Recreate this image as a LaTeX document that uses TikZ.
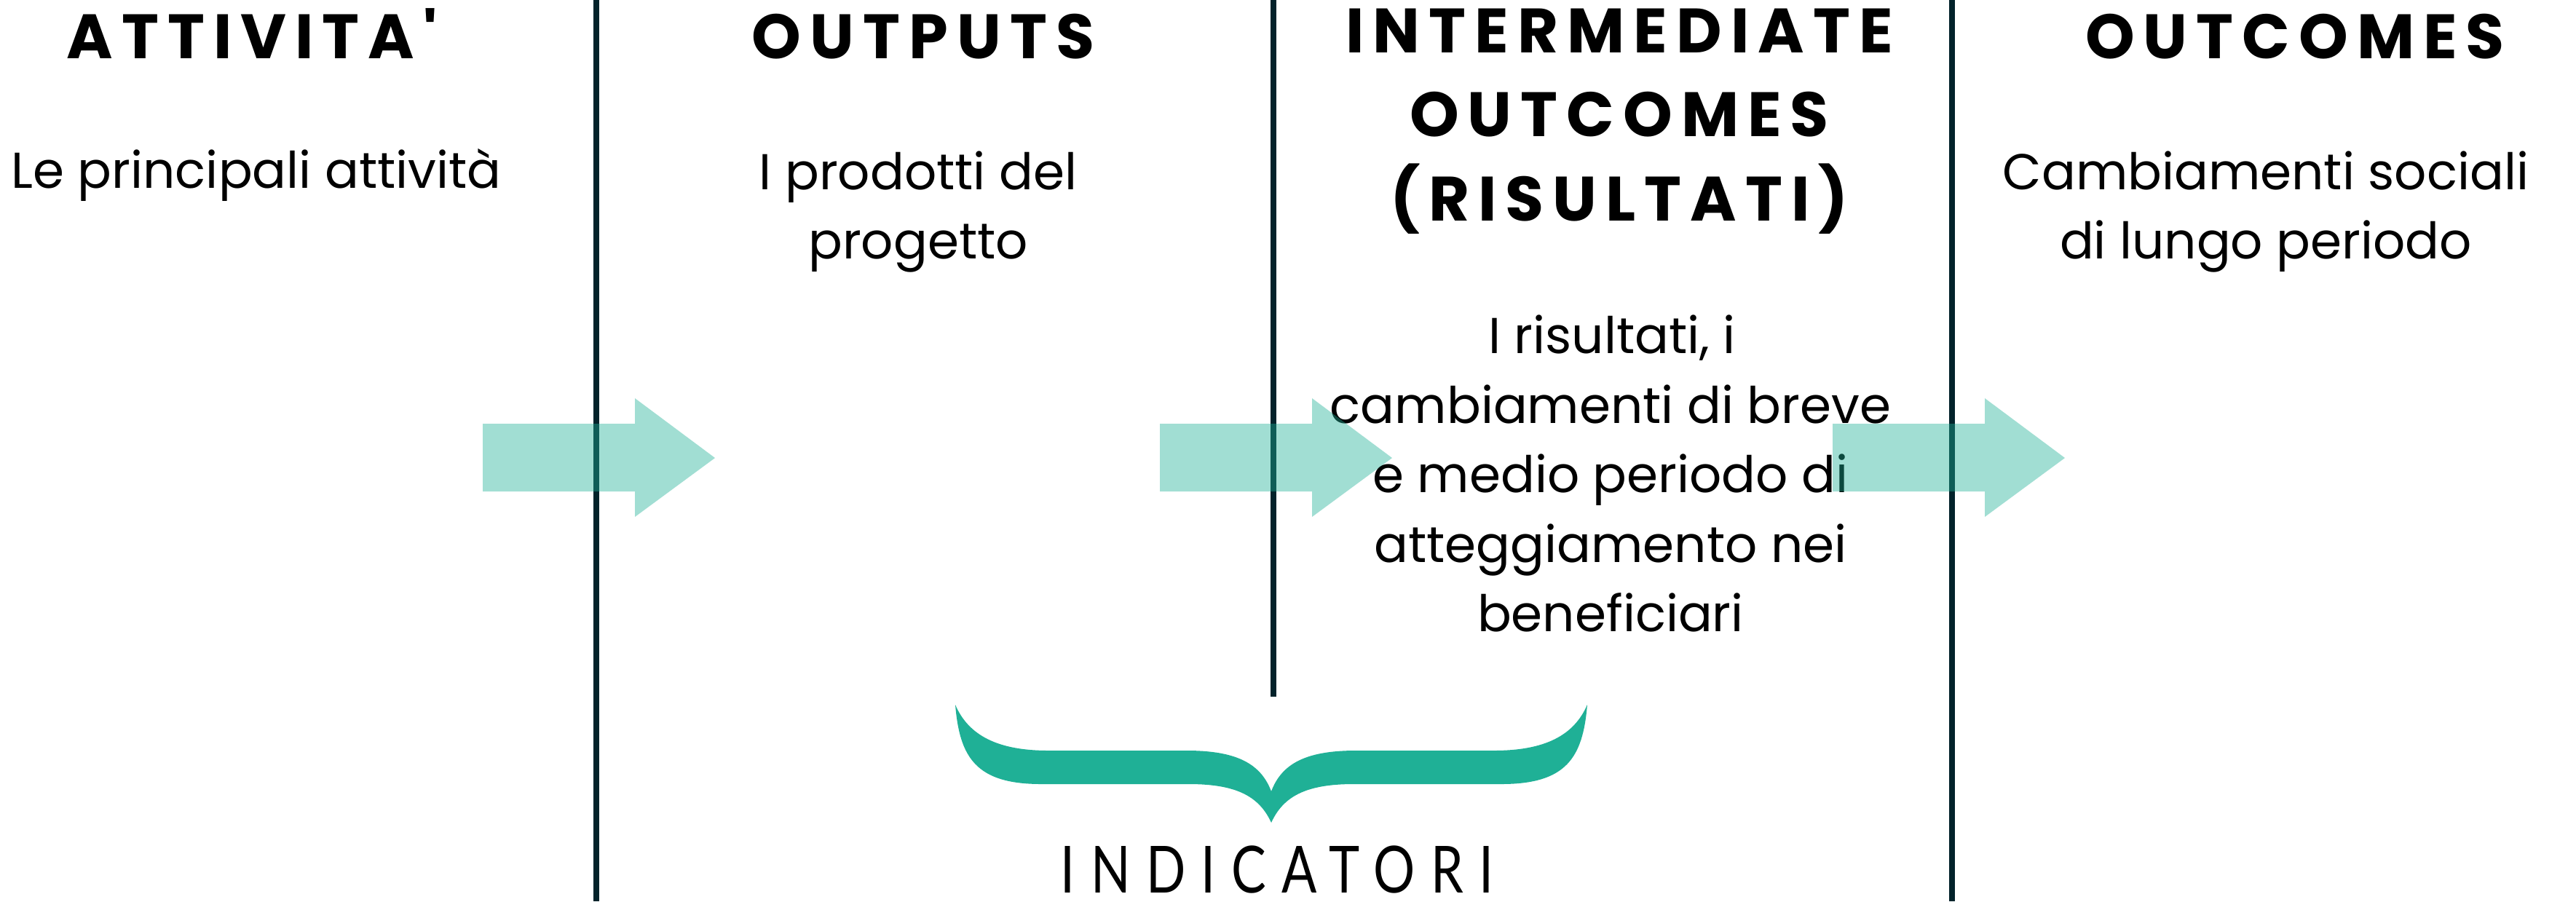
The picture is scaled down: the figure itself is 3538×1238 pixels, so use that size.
\documentclass[tikz,border=0pt]{standalone}
\usepackage{fontspec}
\usepackage{graphicx}
\setmainfont{Poppins}
\newfontfamily\headfont{Poppins}[LetterSpace=14]
\newfontfamily\bodyfont{Poppins}
\newfontfamily\indfont{Lato}[LetterSpace=30]
\definecolor{teal}{HTML}{1FB096}
\definecolor{rule}{HTML}{03232B}
\tikzset{
  head/.style={anchor=base, inner sep=0pt, font=\headfont\bfseries\fontsize{24.5pt}{30pt}\selectfont},
  body/.style={anchor=base, inner sep=0pt, font=\bodyfont\fontsize{19.7pt}{27pt}\selectfont},
  ind/.style={anchor=base, inner sep=0pt, font=\indfont\fontsize{25.4pt}{30pt}\selectfont},
  divider/.style={draw=rule, line width=0.08cm},
  flow/.style={fill=teal, fill opacity=0.415, draw=none},
  bracefill/.style={fill=teal, draw=none}
}
\begin{document}
\begin{tikzpicture}[x=0.01cm, y=-0.01cm]
\fill[white] (0,0) rectangle (3538,1238);
\useasboundingbox (0,0) rectangle (3538,1238);
% dividers
\coordinate (l1t) at (819,0);    \coordinate (l1b) at (819,1238);
\coordinate (l2t) at (1749,0);   \coordinate (l2b) at (1749,957);
\coordinate (l3t) at (2681,0);   \coordinate (l3b) at (2681,1238);
\draw[divider] (l1t) -- (l1b);
\draw[divider] (l2t) -- (l2b);
\draw[divider] (l3t) -- (l3b);
% headings
\node[head] (h1) at (346,80) {ATTIVITA'};
\node[head] (h2) at (1268,80) {OUTPUTS};
\node[head] (h3a) at (2224,72) {INTERMEDIATE};
\node[head] (h3b) at (2224,187) {OUTCOMES};
\node[head] (h3c) at (2224,303) {(RISULTATI)};
\node[head] (h4) at (3152,80) {OUTCOMES};
% descriptions
\node[body] (d1) at (352,258) {Le principali attività};
\node[body] (d2a) at (1261,260) {I prodotti del};
\node[body] (d2b) at (1261,355) {progetto};
\node[body] (d3a) at (2214,485) {I risultati, i};
\node[body] (d3b) at (2212,581) {cambiamenti di breve};
\node[body] (d3c) at (2212,676) {e medio periodo di};
\node[body] (d3d) at (2212,772) {atteggiamento nei};
\node[body] (d3e) at (2212,867) {beneficiari};
\node[body] (d4a) at (3112,260) {Cambiamenti sociali};
\node[body] (d4b) at (3112,355) {di lungo periodo};
% arrows
\foreach \s in {663,1593,2517}{
  \fill[flow] (\s,582) -- (\s+209,582) -- (\s+209,547) -- (\s+319,629)
     -- (\s+209,710) -- (\s+209,675) -- (\s,675) -- cycle;
}
% brace
\fill[bracefill] (1312,968) .. controls (1330,1010) and (1370,1031) .. (1440,1031)
  -- (1630,1031) .. controls (1700,1031) and (1732,1050) .. (1746,1087)
  .. controls (1760,1050) and (1792,1031) .. (1862,1031)
  -- (2052,1031) .. controls (2122,1031) and (2162,1010) .. (2180,968)
  .. controls (2174,1040) and (2152,1077) .. (2062,1077)
  -- (1859,1077) .. controls (1792,1077) and (1762,1095) .. (1746,1130)
  .. controls (1730,1095) and (1700,1077) .. (1633,1077)
  -- (1430,1077) .. controls (1340,1077) and (1318,1040) .. (1312,968) -- cycle;
\node[ind] (ind) at (1754,1226) {\scalebox{0.8}[1]{INDICATORI}};
\end{tikzpicture}
\end{document}
